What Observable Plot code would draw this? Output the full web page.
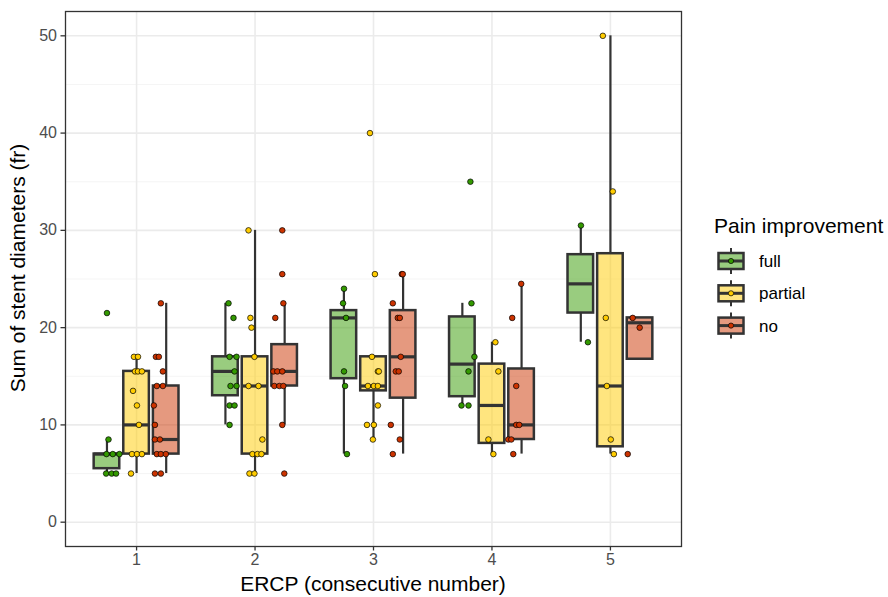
<!DOCTYPE html>
<html>
<head>
<meta charset="utf-8">
<script src="https://cdn.jsdelivr.net/npm/d3@7"></script>
<script src="https://cdn.jsdelivr.net/npm/@observablehq/plot@0.6"></script>
<style>
  body { margin: 0; background: #fff; }
  #wrap { position: relative; width: 888px; height: 597px; font-family: "Liberation Sans", Arial, sans-serif; }
  #wrap > svg { position: absolute; left: 0; top: 0; }
  .ttl { position: absolute; white-space: nowrap; color: #000; font-size: 21px; line-height: 1; }
</style>
</head>
<body>
<div id="wrap"></div>
<script>
const ercp = [1, 2, 3, 4, 5];
const groups = ["full", "partial", "no"];
const pointColors = ["#339900", "#FFCC00", "#CC3300"];
const yMajor = [0, 10, 20, 30, 40, 50];
const yMinor = [5, 15, 25, 35, 45];

// box statistics per ERCP 1..5: [lower whisker, Q1, median, Q3, upper whisker]
const statsFull = [[5, 5.5, 7, 7, 8.5], [10, 13, 15.5, 17, 22.5], [7, 14.75, 21, 21.75, 24], [12, 12.9, 16.25, 21.1, 22.5], [18.5, 21.5, 24.5, 27.5, 30.5]];
const statsPartial = [[5, 7, 10, 15.5, 17], [5, 7, 14, 17, 30], [8.5, 13.5, 14, 17, 17], [7, 8.1, 12, 16.25, 18.5], [7, 7.75, 14, 27.6, 50]];
const statsNo = [[5, 7, 8.5, 14, 22.5], [10, 14, 15.5, 18.25, 22.5], [7, 12.75, 17, 21.75, 25.5], [7, 8.5, 10, 15.75, 24.5], [16.75, 16.75, 20.5, 21, 21]];

// observations: [ERCP, sum of stent diameters, horizontal jitter]
const pointsFull = [
  [1, 21.5, 0], [1, 8.5, 0.013], [1, 7, -0.004], [1, 7, 0.049], [1, 7, 0.105], [1, 5, -0.007], [1, 5, 0.04], [1, 5, 0.077],
  [2, 22.5, 0.026], [2, 21, 0.068], [2, 17, 0.035], [2, 17, 0.094], [2, 15.5, 0.077], [2, 14, 0.043], [2, 14, 0.094], [2, 12, 0.035], [2, 12, 0.077], [2, 10, 0.035],
  [3, 24, 0.001], [3, 22.5, -0.007], [3, 21, 0.018], [3, 15.5, 0.001], [3, 14, 0.01], [3, 7, 0.026],
  [4, 35, 0.068], [4, 22.5, 0.077], [4, 17, 0.102], [4, 15.5, 0.052], [4, 12, -0.007], [4, 12, 0.052],
  [5, 30.5, 0.001], [5, 18.5, 0.06]
];
const pointsPartial = [
  [1, 17, -0.022], [1, 17, 0.012], [1, 15.5, -0.013], [1, 15.5, 0.012], [1, 15.5, 0.045], [1, 13.5, -0.03], [1, 12, 0.003], [1, 10, 0.02], [1, 7, -0.039], [1, 7, 0.003], [1, 7, 0.045], [1, 5, -0.047],
  [2, 30, -0.055], [2, 21, -0.039], [2, 20, -0.03], [2, 17, -0.005], [2, 14, -0.055], [2, 14, 0.029], [2, 8.5, 0.062], [2, 7, -0.022], [2, 7, 0.02], [2, 7, 0.054], [2, 5, -0.047], [2, 5, -0.005],
  [3, 40, -0.03], [3, 25.5, 0.012], [3, 17, -0.013], [3, 15.5, 0.037], [3, 15.5, 0.045], [3, 14, -0.047], [3, 14, 0.003], [3, 14, 0.037], [3, 12, 0.037], [3, 10, -0.055], [3, 10, 0.003], [3, 8.5, -0.005],
  [4, 18.5, 0.029], [4, 15.5, 0.054], [4, 8.5, -0.03], [4, 7, 0.012],
  [5, 50, -0.064], [5, 34, 0.02], [5, 21, -0.039], [5, 14, -0.03], [5, 8.5, 0.003], [5, 7, 0.029]
];
const pointsNo = [
  [1, 22.5, -0.045], [1, 17, -0.087], [1, 17, -0.062], [1, 15.5, -0.028], [1, 14, -0.079], [1, 14, -0.028], [1, 12, -0.104], [1, 10, -0.095], [1, 8.5, -0.095], [1, 8.5, -0.053], [1, 7, -0.079], [1, 7, -0.045], [1, 7, -0.003], [1, 5, -0.095], [1, 5, -0.045],
  [2, 30, -0.02], [2, 25.5, -0.02], [2, 22.5, -0.011], [2, 21, -0.079], [2, 15.5, -0.095], [2, 15.5, -0.062], [2, 15.5, -0.02], [2, 14, -0.087], [2, 14, -0.045], [2, 14, -0.011], [2, 10, -0.02], [2, 5, -0.003],
  [3, 25.5, -0.011], [3, 25.5, -0.003], [3, 22.5, -0.087], [3, 21, -0.045], [3, 21, -0.028], [3, 17, -0.02], [3, 15.5, -0.062], [3, 15.5, -0.037], [3, 10, -0.104], [3, 8.5, -0.028], [3, 7, -0.087],
  [4, 24.5, -0.003], [4, 21, -0.079], [4, 14, -0.045], [4, 10, -0.045], [4, 10, -0.02], [4, 8.5, -0.112], [4, 8.5, -0.087], [4, 7, -0.07],
  [5, 21, -0.062], [5, 20, -0.003], [5, 7, -0.104]
];

const dodge = 0.25, half = 0.108;
const allStats = [statsFull, statsPartial, statsNo];
const allPoints = [pointsFull, pointsPartial, pointsNo];

const boxes = allStats.flatMap((st, k) => st.map((s, i) => ({
  e: ercp[i], k, x: ercp[i] + (k - 1) * dodge,
  lo: s[0], q1: s[1], med: s[2], q3: s[3], hi: s[4], color: pointColors[k]
})));
const pts = allPoints.flatMap((arr, k) => arr.map(([e, v, j]) => ({
  x: e + (k - 1) * dodge + j, v, color: pointColors[k]
})));

const chart = Plot.plot({
  width: 888,
  height: 597,
  marginLeft: 65,
  marginRight: 207,
  marginTop: 11,
  marginBottom: 51,
  style: { fontFamily: "'Liberation Sans', Arial, sans-serif", fontSize: "16px", background: "#fff" },
  x: { domain: [0.4, 5.6], axis: null },
  y: { domain: [-2.5, 52.5], axis: null },
  color: { type: "identity" },
  marks: [
    Plot.ruleY(yMinor, { stroke: "#F2F2F2", strokeWidth: 0.8 }),
    Plot.ruleY(yMajor, { stroke: "#EBEBEB", strokeWidth: 1.6 }),
    Plot.ruleX(ercp, { stroke: "#EBEBEB", strokeWidth: 1.6 }),
    Plot.ruleX(boxes, { x: "x", y1: "lo", y2: "q1", stroke: "#333333", strokeWidth: 2.2 }),
    Plot.ruleX(boxes, { x: "x", y1: "q3", y2: "hi", stroke: "#333333", strokeWidth: 2.2 }),
    Plot.rect(boxes, { x1: d => d.x - half, x2: d => d.x + half, y1: "q1", y2: "q3", fill: "color", fillOpacity: 0.5, stroke: "#333333", strokeWidth: 2.5 }),
    Plot.ruleY(boxes, { y: "med", x1: d => d.x - half, x2: d => d.x + half, stroke: "#333333", strokeWidth: 3.2 }),
    Plot.dot(pts, { x: "x", y: "v", r: 2.8, fill: "color", stroke: "#000", strokeWidth: 0.7 }),
    Plot.frame({ stroke: "#333333", strokeWidth: 1.3 }),
    Plot.axisY({ ticks: yMajor, tickSize: 4.5, tickPadding: 4, stroke: "#333333", strokeWidth: 1.3, fill: "#4D4D4D", label: null, fontSize: 16 }),
    Plot.axisX({ ticks: ercp, tickFormat: d3.format("d"), tickSize: 4.5, tickPadding: 3, stroke: "#333333", strokeWidth: 1.3, fill: "#4D4D4D", label: null, fontSize: 16 })
  ]
});
const wrap = document.getElementById("wrap");
wrap.appendChild(chart);

// axis titles
const xt = document.createElement("div");
xt.className = "ttl";
xt.textContent = "ERCP (consecutive number)";
xt.style.left = "373px"; xt.style.top = "573px"; xt.style.transform = "translateX(-50%)";
wrap.appendChild(xt);
const yt = document.createElement("div");
yt.className = "ttl";
yt.textContent = "Sum of stent diameters (fr)";
yt.style.left = "17px"; yt.style.top = "268px";
yt.style.transform = "translate(-50%,-50%) rotate(-90deg)";
wrap.appendChild(yt);

// legend
const lg = d3.select(wrap).append("svg")
  .attr("width", 888).attr("height", 597)
  .style("pointer-events", "none")
  .style("font-family", "'Liberation Sans', Arial, sans-serif");
lg.append("text").attr("x", 714).attr("y", 233).attr("font-size", 21).attr("fill", "#000").text("Pain improvement");
groups.forEach((g, k) => {
  const cy = 261 + k * 32.3, cx = 731;
  const row = lg.append("g");
  row.append("line").attr("x1", cx).attr("x2", cx).attr("y1", cy - 13).attr("y2", cy + 13).attr("stroke", "#333").attr("stroke-width", 2);
  row.append("rect").attr("x", 718.5).attr("y", cy - 8).attr("width", 25).attr("height", 16)
    .attr("fill", "#fff").attr("stroke", "none");
  row.append("rect").attr("x", 718.5).attr("y", cy - 8).attr("width", 25).attr("height", 16)
    .attr("fill", pointColors[k]).attr("fill-opacity", 0.5).attr("stroke", "#333").attr("stroke-width", 2.5);
  row.append("line").attr("x1", 718.5).attr("x2", 743.5).attr("y1", cy).attr("y2", cy).attr("stroke", "#333").attr("stroke-width", 3);
  row.append("circle").attr("cx", cx).attr("cy", cy).attr("r", 2.6).attr("fill", pointColors[k]).attr("stroke", "#000").attr("stroke-width", 0.7);
  row.append("text").attr("x", 759).attr("y", cy).attr("dy", "0.35em").attr("font-size", 17).attr("fill", "#000").text(g);
});
</script>
</body>
</html>
